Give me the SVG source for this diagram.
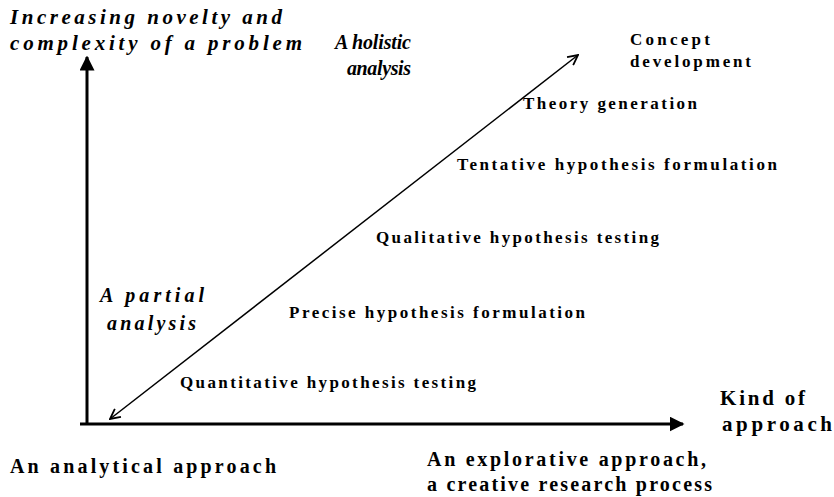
<svg xmlns="http://www.w3.org/2000/svg" width="834" height="497" viewBox="0 0 834 497">
  <defs>
    <style>
      text { font-family: 'Liberation Serif', 'DejaVu Serif', serif; font-weight: bold; fill: #000; }
      .it { font-style: italic; }
      .axis { stroke: #000; stroke-width: 3; fill: none; }
      .diag { stroke: #000; stroke-width: 1.5; fill: none; }
    </style>
    <marker id="solid" viewBox="0 0 10 10" refX="9" refY="5" markerWidth="5" markerHeight="5" markerUnits="strokeWidth" orient="auto">
      <path d="M0,0 L10,5 L0,10 Z" fill="#000"/>
    </marker>
    <marker id="open" viewBox="0 0 12 12" refX="11" refY="6" markerWidth="12" markerHeight="12" markerUnits="userSpaceOnUse" orient="auto-start-reverse">
      <path d="M1,1 L11,6 L1,11" fill="none" stroke="#000" stroke-width="1.8"/>
    </marker>
  </defs>

  <g id="connectors">
    <line id="y-axis" class="axis" x1="87" y1="424" x2="87" y2="57" marker-end="url(#solid)"/>
    <line id="x-axis" class="axis" x1="80" y1="424" x2="683" y2="424" marker-end="url(#solid)"/>
    <line id="diagonal" class="diag" x1="110" y1="419" x2="578" y2="55" marker-start="url(#open)" marker-end="url(#open)"/>
  </g>

  <g id="y-axis-label" font-family="Liberation Serif, serif">
    <text class="it" x="10" y="24" font-size="21" textLength="272" lengthAdjust="spacing">Increasing novelty and</text>
    <text class="it" x="10" y="50" font-size="21" textLength="292" lengthAdjust="spacing">complexity of  a problem</text>
  </g>

  <g id="holistic">
    <text class="it" x="335" y="49" font-size="20" textLength="76" lengthAdjust="spacing">A holistic</text>
    <text class="it" x="347" y="75" font-size="20" textLength="64" lengthAdjust="spacing">analysis</text>
  </g>

  <g id="partial">
    <text class="it" x="100" y="302" font-size="20" textLength="104" lengthAdjust="spacing">A partial</text>
    <text class="it" x="107" y="330" font-size="20" textLength="89" lengthAdjust="spacing">analysis</text>
  </g>

  <g id="concept">
    <text x="630" y="45" font-size="17" textLength="80" lengthAdjust="spacing">Concept</text>
    <text x="630" y="67" font-size="17" textLength="121" lengthAdjust="spacing">development</text>
  </g>

  <g id="theory">
    <text x="523" y="109" font-size="17" textLength="174" lengthAdjust="spacing">Theory generation</text>
  </g>

  <g id="tentative">
    <text x="457" y="170" font-size="17" textLength="320" lengthAdjust="spacing">Tentative hypothesis formulation</text>
  </g>

  <g id="qualitative">
    <text x="376" y="243" font-size="17" textLength="283" lengthAdjust="spacing">Qualitative hypothesis testing</text>
  </g>

  <g id="precise">
    <text x="289" y="318" font-size="17" textLength="296" lengthAdjust="spacing">Precise hypothesis formulation</text>
  </g>

  <g id="quantitative">
    <text x="180" y="388" font-size="17" textLength="296" lengthAdjust="spacing">Quantitative hypothesis testing</text>
  </g>

  <g id="x-axis-label">
    <text x="720" y="405" font-size="21" textLength="85" lengthAdjust="spacing">Kind of</text>
    <text x="722" y="431" font-size="21" textLength="110" lengthAdjust="spacing">approach</text>
  </g>

  <g id="analytical">
    <text x="10" y="473" font-size="20" textLength="266" lengthAdjust="spacing">An analytical approach</text>
  </g>

  <g id="explorative">
    <text x="427" y="466" font-size="20" textLength="279" lengthAdjust="spacing">An explorative approach,</text>
    <text x="427" y="491" font-size="20" textLength="285" lengthAdjust="spacing">a creative research process</text>
  </g>
</svg>
